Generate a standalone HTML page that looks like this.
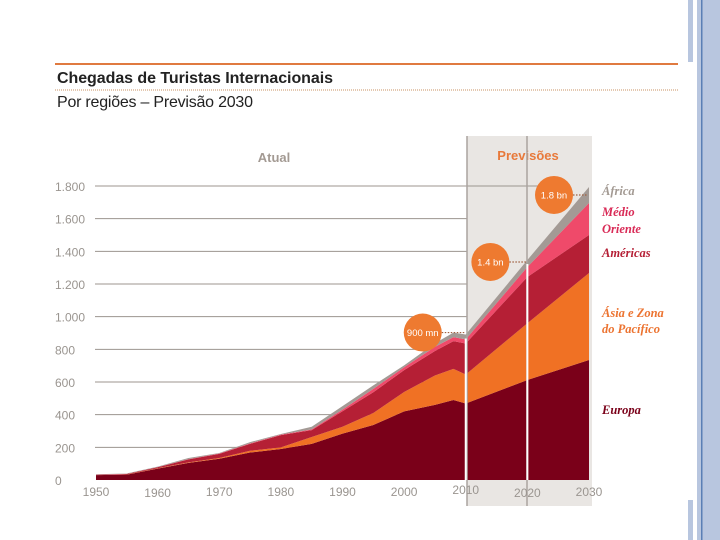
<!DOCTYPE html>
<html><head><meta charset="utf-8"><style>
body{margin:0;width:720px;height:540px;overflow:hidden;background:#fff;font-family:"Liberation Sans",sans-serif;}
svg{display:block}
</style></head><body>
<svg width="720" height="540">
<rect x="688" y="0" width="5" height="62" fill="#b8c6df"/>
<rect x="688" y="500" width="5" height="40" fill="#b8c6df"/>
<rect x="697" y="0" width="23" height="540" fill="#b8c6df"/>
<rect x="701" y="0" width="1.5" height="540" fill="#5a7fb5"/>
<line x1="55" y1="64" x2="678" y2="64" stroke="#e07a40" stroke-width="2"/>
<text x="57" y="83" font-size="16" font-weight="bold" fill="#222" textLength="276">Chegadas de Turistas Internacionais</text>
<line x1="55" y1="90" x2="678" y2="90" stroke="#c89060" stroke-width="1" stroke-dasharray="1,1"/>
<text x="57" y="107" font-size="16" fill="#222" textLength="196">Por regiões – Previsão 2030</text>
<rect x="467" y="136" width="125" height="370" fill="#e9e6e3"/>
<text x="274" y="162" font-size="13" font-weight="bold" fill="#a39a93" text-anchor="middle">Atual</text>
<text x="528" y="160" font-size="13" font-weight="bold" fill="#e8793a" text-anchor="middle">Previsões</text>
<g id="grid"></g>
<g id="areas"></g>
<line x1="467" y1="136" x2="467" y2="506" stroke="#aaa49f" stroke-width="1.5"/>
<line x1="527" y1="136" x2="527" y2="506" stroke="#aaa49f" stroke-width="1.5"/>
<g id="vwhite"></g>
<g id="xaxis"></g>
<g id="bubbles"></g>
<g font-family="'Liberation Serif',serif" font-style="italic" font-weight="bold" font-size="12.5">
<text x="602" y="195" fill="#a39a93">África</text>
<text x="602" y="216" fill="#d92b57">Médio</text>
<text x="602" y="233" fill="#d92b57">Oriente</text>
<text x="602" y="257" fill="#b51f35">Américas</text>
<text x="602" y="317" fill="#ec7330">Ásia e Zona</text>
<text x="602" y="333" fill="#ec7330">do Pacífico</text>
<text x="602" y="414" fill="#7a0019">Europa</text>
</g>
</svg>
<script>
const years=[1950,1955,1960,1965,1970,1975,1980,1985,1990,1995,2000,2005,2008,2010,2020,2030];
const europe=[30,33,70,105,130,168,190,221,284,337,420,460,490,468,612,735];
const asia=[0,1,2,3,5,11,10,42,42,73,119,180,190,178,348,532];
const americas=[2,3,6,18,25,42,75,42,95,127,134,150,170,190,283,233];
const middleEast=[1,1,1,2,2,3,3,5,10,21,17,25,25,25,61,196];
const africa=[2,2,3,7,3,8,4,16,21,21,12,22,27,30,43,98];
const yTicks=[0,200,400,600,800,1000,1200,1400,1600,1800];
const yTickLabels=["0","200","400","600","800","1.000","1.200","1.400","1.600","1.800"];
const xTicks=[1950,1960,1970,1980,1990,2000,2010,2020,2030];
const bubbleYears=[2010,2020,2030];
const bubbleLabels=["900 mn","1.4 bn","1.8 bn"];
const bubbleValues=[915,1347,1794];

const NS="http://www.w3.org/2000/svg";
const X=y=>96+(y-1950)*(493/80);
const Y=v=>480-v*(294/1800);
function mk(tag,attrs,parent){const e=document.createElementNS(NS,tag);for(const k in attrs)e.setAttribute(k,attrs[k]);document.getElementById(parent).appendChild(e);return e;}

yTicks.forEach((t,i)=>{
  if(t>0){const l=mk('line',{x1:95,x2:t===1800?540:467,y1:Y(t),y2:Y(t),stroke:'#9c958f','stroke-width':1},'grid');
  
  }
  const tx=mk('text',{x:55,y:Y(t)+5,'font-size':12,fill:'#9a9590'},'grid');
  tx.textContent=yTickLabels[i];
  
  
});

const series=[europe,asia,americas,middleEast,africa];
const names=['area-europe','area-asia','area-americas','area-middle-east','area-africa'];
const colors=['#7a0019','#f07124','#b51f35','#ef4a6a','#a39a95'];
let base=years.map(()=>0);
series.forEach((s,k)=>{
  const top=base.map((b,i)=>b+s[i]);
  let d='M'+years.map((y,i)=>X(y)+','+Y(top[i])).join(' L');
  for(let i=years.length-1;i>=0;i--)d+=' L'+X(years[i])+','+Y(base[i]);
  const p=mk('path',{d:d+'Z',fill:colors[k]},'areas');
  
  
  base=top;
});
const totals=base;

[2010,2020].forEach(y=>{
  const i=years.indexOf(y);
  const l=mk('line',{x1:X(y),x2:X(y),y1:Y(totals[i])+4,y2:480,stroke:'#fff','stroke-width':2},'vwhite');
  
  
});

xTicks.forEach(y=>{
  const dy=(y===1960||y===2020)?497:(y===2010?494:496);
  const t=mk('text',{x:X(y),y:dy,'font-size':12,fill:'#9a9590','text-anchor':'middle'},'xaxis');
  t.textContent=y;
  
  
});

const bubbleDx=[-43,-37,-35];
bubbleYears.forEach((y,i)=>{
  const cx=X(y)+bubbleDx[i], cy=Y(bubbleValues[i])+(i===2?8:2);
  const l=mk('line',{x1:cx+19,x2:X(y)-1,y1:cy,y2:cy,stroke:'#a06040','stroke-width':1.2,'stroke-dasharray':'1.5,1.5'},'bubbles');
  
  
  const c=mk('circle',{cx:cx,cy:cy,r:19,fill:'#ee7a30'},'bubbles');
  
  
  const t=mk('text',{x:cx,y:cy+3.5,'font-size':9.5,fill:'#fff','text-anchor':'middle'},'bubbles');
  t.textContent=bubbleLabels[i];
  
  
});
</script>
</body></html>
